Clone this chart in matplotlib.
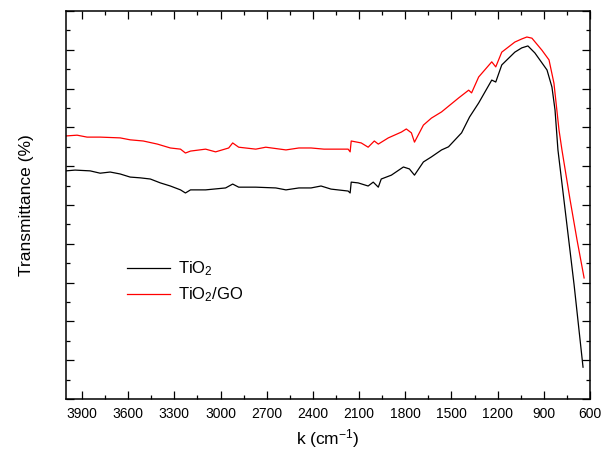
import matplotlib
matplotlib.use("Agg")
import matplotlib.pyplot as plt
from matplotlib.ticker import MultipleLocator

plt.rcParams['font.family'] = ['Liberation Sans', 'DejaVu Sans']
plt.rcParams['mathtext.default'] = 'regular'

# TiO2 spectrum (wavenumber, transmittance in axis units)
k_tio2 = [4004, 3945, 3847, 3782, 3717, 3652, 3587, 3521, 3456, 3391, 3326, 3260,
          3228, 3195, 3097, 2967, 2921, 2882, 2771, 2641, 2575, 2491, 2412, 2347,
          2282, 2171, 2158, 2151, 2106, 2041, 2008, 1975, 1956, 1890, 1812, 1773,
          1740, 1682, 1630, 1564, 1519, 1434, 1382, 1323, 1238, 1212, 1173, 1088,
          1043, 1003, 958, 879, 847, 827, 808, 769, 703, 645]
t_tio2 = [58.8, 59.0, 58.8, 58.2, 58.5, 58.0, 57.2, 57.0, 56.7, 55.7, 54.9, 53.9,
          53.1, 53.9, 53.9, 54.4, 55.4, 54.6, 54.6, 54.4, 53.9, 54.4, 54.4, 54.9,
          54.1, 53.6, 53.1, 55.9, 55.7, 54.9, 55.9, 54.6, 56.7, 57.7, 59.8, 59.3,
          57.7, 61.1, 62.4, 64.2, 65.0, 68.6, 72.7, 76.3, 82.2, 81.7, 86.1, 89.4,
          90.5, 91.0, 89.2, 84.8, 80.4, 74.5, 64.2, 51.3, 29.4, 8.2]

# TiO2/GO spectrum
k_go = [4004, 3932, 3867, 3782, 3652, 3587, 3502, 3410, 3326, 3260, 3228, 3195,
        3097, 3032, 2947, 2921, 2882, 2771, 2706, 2575, 2491, 2412, 2328, 2282,
        2171, 2158, 2151, 2086, 2041, 2001, 1975, 1910, 1825, 1793, 1760, 1740,
        1682, 1630, 1564, 1453, 1388, 1369, 1323, 1238, 1212, 1173, 1088, 1043,
        1010, 977, 912, 866, 834, 801, 782, 729, 684, 638]
t_go = [67.8, 68.0, 67.5, 67.5, 67.3, 66.8, 66.5, 65.7, 64.7, 64.4, 63.4, 63.9,
        64.4, 63.7, 64.7, 66.0, 64.9, 64.4, 64.9, 64.2, 64.7, 64.7, 64.4, 64.4,
        64.4, 63.7, 66.5, 66.0, 64.9, 66.5, 65.7, 67.3, 68.8, 69.6, 68.6, 66.2,
        70.6, 72.4, 74.0, 77.6, 79.6, 78.9, 83.0, 86.9, 85.6, 89.4, 92.0, 92.8,
        93.3, 93.0, 89.9, 87.4, 81.4, 69.3, 64.2, 51.3, 41.0, 31.2]

fig = plt.figure(figsize=(6.02, 4.59), dpi=100)
ax = fig.add_axes([0.1096, 0.1307, 0.8704, 0.8453])

ax.plot(k_tio2, t_tio2, color='black', lw=0.9, label=r'TiO$_2$')
ax.plot(k_go, t_go, color='red', lw=0.9, label=r'TiO$_2$/GO')

ax.set_xlim(4004, 600)
ax.set_ylim(0, 100)
ax.xaxis.set_major_locator(MultipleLocator(300))
ax.xaxis.set_minor_locator(MultipleLocator(150))
ax.yaxis.set_major_locator(MultipleLocator(10))
ax.yaxis.set_minor_locator(MultipleLocator(5))
ax.set_yticklabels([])
ax.tick_params(which='both', direction='in', top=True, right=True, width=0.9)
ax.tick_params(which='major', length=5.5, labelsize=10, pad=6)
ax.tick_params(which='minor', length=3)
for s in ax.spines.values():
    s.set_linewidth(1.1)

ax.set_xlabel(r'k (cm$^{-1}$)', fontsize=12.5, labelpad=4)
ax.set_ylabel('Transmittance (%)', fontsize=12.5, labelpad=17)

ax.legend(loc='center left', bbox_to_anchor=(0.116, 0.302), frameon=False,
          fontsize=12, handlelength=2.6, handletextpad=0.5, labelspacing=0.45,
          borderpad=0, borderaxespad=0)

fig.savefig('out.png', dpi=100)
